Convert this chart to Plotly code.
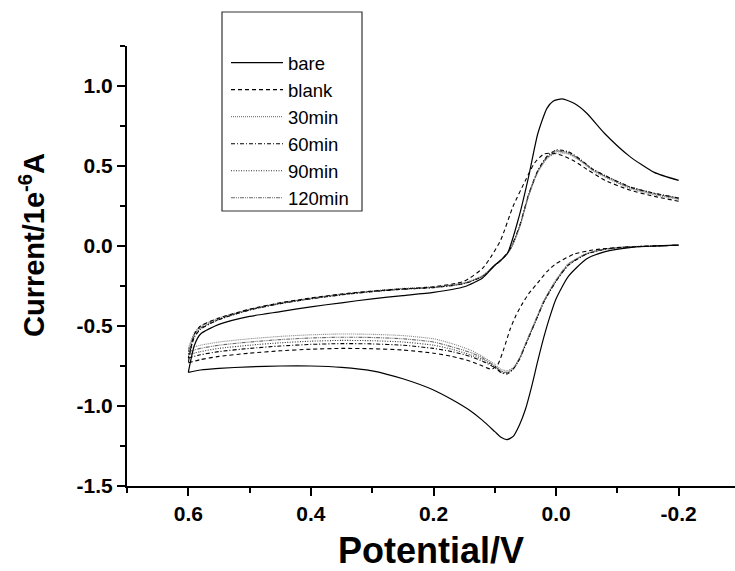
import plotly.graph_objects as go

# ---------------- data (Potential / V, Current / 1e-6 A) ----------------
labels = ["bare", "blank", "30min", "60min", "90min", "120min"]

# forward (cathodic) sweep grids
V_fwd_bare = [0.6, 0.58, 0.55, 0.5, 0.45, 0.4, 0.35, 0.3, 0.25, 0.2, 0.17, 0.14, 0.12, 0.1, 0.09,
              0.08, 0.07, 0.06, 0.05, 0.04, 0.03, 0.02, 0.01, 0.0, -0.02, -0.05, -0.08, -0.12, -0.16, -0.2]
I_fwd_bare = [-0.79, -0.775, -0.765, -0.755, -0.75, -0.75, -0.758, -0.78, -0.83, -0.90, -0.96, -1.03, -1.09, -1.16, -1.195,
              -1.21, -1.19, -1.12, -1.02, -0.88, -0.72, -0.57, -0.44, -0.33, -0.19, -0.08, -0.035, -0.01, 0.0, 0.005]

V_fwd_blank = [0.6, 0.58, 0.55, 0.5, 0.45, 0.4, 0.35, 0.3, 0.25, 0.2, 0.17, 0.14, 0.12, 0.105,
               0.095, 0.085, 0.075, 0.065, 0.055, 0.045, 0.03, 0.015, 0.0, -0.03, -0.06, -0.1, -0.14, -0.2]
I_fwd_blank = [-0.73, -0.71, -0.69, -0.67, -0.655, -0.645, -0.64, -0.642, -0.65, -0.67, -0.69, -0.72, -0.75, -0.77,
               -0.74, -0.64, -0.52, -0.43, -0.36, -0.30, -0.23, -0.16, -0.11, -0.05, -0.025, -0.01, -0.003, 0.005]

V_fwd_group = [0.6, 0.58, 0.55, 0.5, 0.45, 0.4, 0.35, 0.3, 0.25, 0.2, 0.17, 0.14, 0.12, 0.1, 0.09,
               0.08, 0.07, 0.06, 0.05, 0.04, 0.03, 0.02, 0.0, -0.02, -0.05, -0.08, -0.12, -0.16, -0.2]
I_fwd_30 = [-0.64, -0.62, -0.60, -0.58, -0.565, -0.555, -0.55, -0.552, -0.56, -0.58, -0.61, -0.65, -0.69, -0.74, -0.77,
            -0.78, -0.76, -0.70, -0.61, -0.52, -0.43, -0.34, -0.21, -0.11, -0.045, -0.018, -0.004, 0.0, 0.005]
I_fwd_60 = [-0.70, -0.68, -0.66, -0.64, -0.625, -0.615, -0.61, -0.612, -0.62, -0.64, -0.66, -0.69, -0.72, -0.76, -0.79,
            -0.80, -0.77, -0.71, -0.62, -0.53, -0.44, -0.35, -0.22, -0.12, -0.05, -0.02, -0.005, 0.0, 0.005]
I_fwd_90 = [-0.68, -0.66, -0.64, -0.62, -0.605, -0.595, -0.59, -0.592, -0.60, -0.62, -0.645, -0.68, -0.71, -0.755, -0.785,
            -0.795, -0.77, -0.71, -0.62, -0.53, -0.44, -0.35, -0.22, -0.12, -0.05, -0.02, -0.005, 0.0, 0.005]
I_fwd_120 = [-0.66, -0.64, -0.62, -0.60, -0.585, -0.575, -0.57, -0.572, -0.58, -0.60, -0.63, -0.665, -0.70, -0.75, -0.78,
             -0.79, -0.765, -0.705, -0.615, -0.525, -0.435, -0.345, -0.215, -0.115, -0.048, -0.019, -0.005, 0.0, 0.005]

# reverse (anodic) sweep grids
V_rev_bare = [-0.2, -0.16, -0.12, -0.08, -0.05, -0.03, -0.01, 0.005, 0.015, 0.03, 0.045, 0.06, 0.08, 0.1,
              0.12, 0.15, 0.2, 0.25, 0.3, 0.35, 0.4, 0.45, 0.5, 0.55, 0.58, 0.59, 0.6]
I_rev_bare = [0.41, 0.46, 0.56, 0.70, 0.83, 0.89, 0.92, 0.905, 0.86, 0.70, 0.43, 0.19, -0.05, -0.12,
              -0.2, -0.255, -0.29, -0.31, -0.33, -0.355, -0.38, -0.41, -0.44, -0.49, -0.55, -0.62, -0.79]

V_rev_blank = [-0.2, -0.16, -0.12, -0.08, -0.05, -0.03, -0.01, 0.005, 0.02, 0.035, 0.05, 0.07, 0.09, 0.105,
               0.12, 0.15, 0.2, 0.25, 0.3, 0.35, 0.4, 0.45, 0.5, 0.55, 0.58, 0.59, 0.6]
I_rev_blank = [0.28, 0.31, 0.35, 0.41, 0.48, 0.53, 0.565, 0.58, 0.575, 0.52, 0.41, 0.25, 0.04, -0.06,
               -0.14, -0.22, -0.255, -0.268, -0.282, -0.30, -0.325, -0.355, -0.395, -0.45, -0.50, -0.55, -0.73]

V_rev_group = [-0.2, -0.16, -0.12, -0.08, -0.06, -0.04, -0.02, 0.0, 0.015, 0.03, 0.045, 0.06, 0.075, 0.09,
               0.1, 0.12, 0.15, 0.2, 0.25, 0.3, 0.35, 0.4, 0.45, 0.5, 0.55, 0.58, 0.59, 0.6]
I_rev_30 = [0.29, 0.32, 0.36, 0.43, 0.47, 0.53, 0.575, 0.58, 0.545, 0.46, 0.31, 0.11, -0.025, -0.09,
            -0.12, -0.185, -0.23, -0.255, -0.265, -0.28, -0.30, -0.325, -0.355, -0.395, -0.45, -0.50, -0.54, -0.64]
I_rev_60 = [0.30, 0.33, 0.37, 0.44, 0.48, 0.54, 0.59, 0.60, 0.56, 0.47, 0.32, 0.12, -0.02, -0.09,
            -0.12, -0.19, -0.235, -0.26, -0.27, -0.285, -0.305, -0.33, -0.36, -0.40, -0.46, -0.52, -0.57, -0.70]
I_rev_90 = [0.30, 0.33, 0.37, 0.44, 0.48, 0.535, 0.585, 0.595, 0.555, 0.465, 0.315, 0.115, -0.022, -0.09,
            -0.12, -0.19, -0.235, -0.26, -0.27, -0.285, -0.305, -0.33, -0.36, -0.40, -0.46, -0.515, -0.56, -0.68]
I_rev_120 = [0.295, 0.325, 0.365, 0.435, 0.475, 0.535, 0.58, 0.59, 0.55, 0.465, 0.315, 0.115, -0.022, -0.09,
             -0.12, -0.188, -0.232, -0.258, -0.268, -0.283, -0.303, -0.328, -0.358, -0.398, -0.455, -0.51, -0.55, -0.66]

x_ticks = [0.6, 0.4, 0.2, 0.0, -0.2]
x_minor = [0.7, 0.5, 0.3, 0.1, -0.1]
y_ticks = [1.0, 0.5, 0.0, -0.5, -1.0, -1.5]
y_minor = [1.25, 0.75, 0.25, -0.25, -0.75, -1.25]

# ---------------- figure ----------------
FONT = "Liberation Sans, Arial, sans-serif"

curves = [
    ("bare", V_fwd_bare, I_fwd_bare, V_rev_bare, I_rev_bare, "#000000", "solid", 1.2),
    ("blank", V_fwd_blank, I_fwd_blank, V_rev_blank, I_rev_blank, "#000000", "4px,3px", 1.1),
    ("30min", V_fwd_group, I_fwd_30, V_rev_group, I_rev_30, "#808080", "1px,1px", 1.1),
    ("60min", V_fwd_group, I_fwd_60, V_rev_group, I_rev_60, "#000000", "4px,2px,1px,2px", 1.1),
    ("90min", V_fwd_group, I_fwd_90, V_rev_group, I_rev_90, "#333333", "1px,1.5px", 1.1),
    ("120min", V_fwd_group, I_fwd_120, V_rev_group, I_rev_120, "#666666", "4px,1px,1px,1px,1px,1px", 1.1),
]

fig = go.Figure()
for name, vf, i_f, vr, i_r, col, dash, w in curves[::-1]:
    fig.add_trace(go.Scatter(
        x=list(vf) + [None] + list(vr),
        y=list(i_f) + [None] + list(i_r),
        mode="lines", name=name, legendrank=labels.index(name) + 1,
        line=dict(color=col, dash=dash, width=w, shape="spline", smoothing=0.6),
        connectgaps=False, showlegend=True,
    ))

W, H = 735, 571
ml, mt, mb = 127, 46, 85
px_w = W - ml
px_h = H - mt - mb

# legend frame (drawn as a shape)
fig.add_shape(type="rect", xref="paper", yref="paper",
              x0=(222 - ml) / px_w, x1=(362 - ml) / px_w,
              y0=(H - mb - 211) / px_h, y1=(H - mb - 12) / px_h,
              line=dict(color="#333333", width=1.2), fillcolor="white", layer="below")

# y-axis title as annotation for exact placement
fig.add_annotation(
    text="Current/1e<sup>-6</sup>A", textangle=-90, showarrow=False,
    xref="paper", yref="paper", x=(32 - ml) / px_w, y=(H - mb - 245) / px_h,
    xanchor="center", yanchor="middle",
    font=dict(family=FONT, size=29, weight="bold", color="black"),
)

fig.update_layout(
    width=W, height=H,
    margin=dict(l=ml, r=0, t=mt, b=mb, pad=0),
    paper_bgcolor="white", plot_bgcolor="rgba(0,0,0,0)",
    font=dict(family=FONT, color="black"),
    showlegend=True,
    legend=dict(
        x=(226 - ml) / px_w, y=(H - mb - 44) / px_h, xanchor="left", yanchor="top",
        bgcolor="rgba(0,0,0,0)", borderwidth=0,
        font=dict(family=FONT, size=18.5, color="black"),
        itemwidth=52, tracegroupgap=0, traceorder="normal",
    ),
    xaxis=dict(
        range=[0.7, 0.7 - px_w / 613.0],
        tickmode="array", tickvals=x_ticks, ticktext=[f"{v:.1f}" for v in x_ticks],
        ticks="outside", ticklen=8, tickwidth=2, tickcolor="black",
        showline=True, linewidth=2, linecolor="black", mirror=False,
        showgrid=False, zeroline=False,
        minor=dict(tickvals=x_minor, ticks="outside", ticklen=5, tickwidth=2, tickcolor="black"),
        tickfont=dict(family=FONT, size=21, weight="bold"),
        title=dict(text="Potential/V", font=dict(family=FONT, size=36, weight="bold"), standoff=20),
    ),
    yaxis=dict(
        range=[-1.5, 1.25],
        tickmode="array", tickvals=y_ticks, ticktext=[f"{v:.1f}" for v in y_ticks],
        ticks="outside", ticklen=8, tickwidth=2, tickcolor="black",
        showline=True, linewidth=2, linecolor="black", mirror=False,
        showgrid=False, zeroline=False,
        minor=dict(tickvals=y_minor, ticks="outside", ticklen=5, tickwidth=2, tickcolor="black"),
        tickfont=dict(family=FONT, size=21, weight="bold"),
    ),
)

fig.write_html("out.html")
